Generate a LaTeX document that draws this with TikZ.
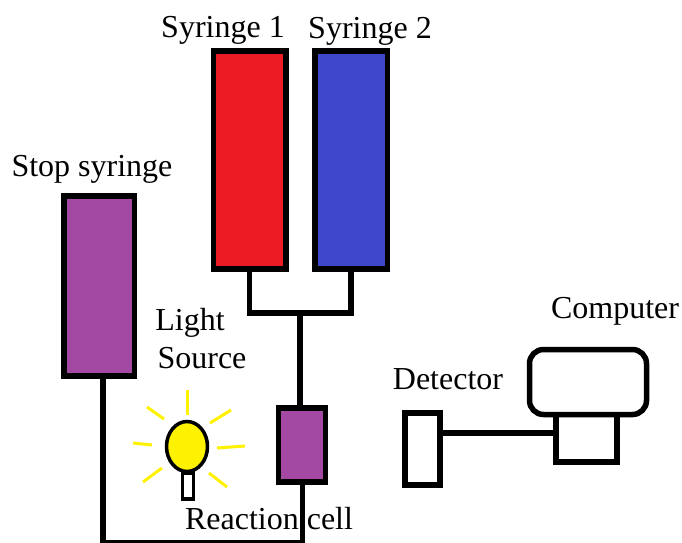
\documentclass[tikz,border=0pt]{standalone}
\usepackage{fontspec}
\setmainfont{Liberation Serif}
\usetikzlibrary{shapes.geometric}
\definecolor{cred}{RGB}{237,28,36}
\definecolor{cblue}{RGB}{63,72,204}
\definecolor{cpurple}{RGB}{163,73,164}
\definecolor{cyel}{RGB}{255,242,0}
\begin{document}
\begin{tikzpicture}[x=1pt,y=-1pt,line width=5.5pt,
 box/.style={draw=black,rectangle,minimum width=#1,inner sep=0pt,outer sep=0pt},
 lab/.style={inner sep=0pt,font=\fontsize{32}{34}\selectfont,text=black},
 raystroke/.style={draw=cyel,line width=3pt}]
\path[use as bounding box] (0,0) rectangle (682,542);
\clip (0,0) rectangle (682,542);
\node[box=72.5pt,minimum height=218pt,fill=cred] (s1) at (249.5,160) {};
\node[box=72.5pt,minimum height=218pt,fill=cblue] (s2) at (351,160) {};
\node[box=70.5pt,minimum height=180pt,fill=cpurple] (stop) at (99,286) {};
\node[box=47pt,minimum height=74pt,fill=cpurple] (cell) at (302,445) {};
\coordinate (j) at (300,313);
\coordinate (cellin) at (300,407);
\coordinate (cellout) at (302.5,482);
\coordinate (corner1) at (302.5,542.5);
\coordinate (corner2) at (103,542.5);
\coordinate (stopout) at (103,376);
\draw (s1.south) -- (s1.south |- j) -- (s2.south |- j) -- (s2.south);
\draw (j) -- (cellin);
\draw (cellout) -- (corner1) -- (corner2) -- (stopout);
\node[lab] (t1) at (223,30) {Syringe 1};
\node[lab] (t2) at (370,31) {Syringe 2};
\node[lab] (t3) at (92,169) {Stop syringe};
\node[lab] (t4) at (190,323) {Light};
\node[lab] (t5) at (202,358) {Source};
\node[lab] (t6) at (448,379) {Detector};
\node[lab] (t7) at (615,311) {Computer};
\node[lab] (t8) at (269,519) {Reaction cell};
\draw[raystroke] (187,390) -- (187,415);
\draw[raystroke] (147,407) -- (164,419);
\draw[raystroke] (231,410) -- (210,423);
\draw[raystroke] (133,443) -- (152,445);
\draw[raystroke] (245,446) -- (217,448);
\draw[raystroke] (162,468) -- (143,482);
\draw[raystroke] (209,473) -- (227,487);
\node[draw=black,line width=3.5pt,fill=white,minimum width=11pt,minimum height=26pt,inner sep=0pt] (base) at (188,486) {};
\node[ellipse,draw=black,line width=3.5pt,fill=cyel,minimum width=41pt,minimum height=50pt,inner sep=0pt] (bulb) at (187,446.5) {};
\node[box=35pt,minimum height=72pt,fill=white] (det) at (422.5,449) {};
\node[box=61pt,minimum height=48pt,fill=white] (base2) at (586.5,438) {};
\node[draw=black,rounded corners=14pt,fill=white,minimum width=117pt,minimum height=65pt,inner sep=0pt] (comp) at (588,382) {};
\draw (det.east |- 0,433) -- (base2.west |- 0,433);
\end{tikzpicture}
\end{document}
